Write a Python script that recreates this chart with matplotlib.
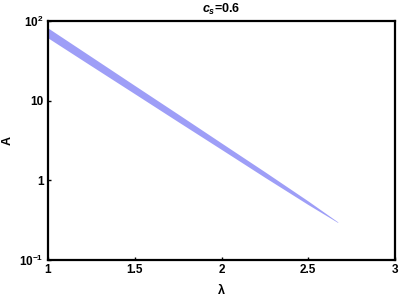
import matplotlib
matplotlib.use("Agg")
import matplotlib.pyplot as plt
from matplotlib.ticker import FixedLocator, FixedFormatter, NullLocator

plt.rcParams['font.family'] = ['Liberation Sans', 'DejaVu Sans']
plt.rcParams['font.weight'] = 'bold'
plt.rcParams['mathtext.fontset'] = 'custom'
plt.rcParams['mathtext.rm'] = 'Liberation Sans:bold'
plt.rcParams['mathtext.bf'] = 'Liberation Sans:bold'
plt.rcParams['mathtext.it'] = 'Liberation Sans:bold:italic'

# data
lam = [1.0, 1.25, 1.5, 1.75, 2.0, 2.25, 2.5, 2.67]
A_upper = [81.7, 35.6, 15.5, 6.77, 2.94, 1.28, 0.549, 0.301]
A_lower = [61.3, 27.3, 12.2, 5.44, 2.44, 1.09, 0.495, 0.296]

xticks = [1, 1.5, 2, 2.5, 3]
xticklabels = ["1", "1.5", "2", "2.5", "3"]
yticks = [0.1, 1, 10, 100]
yticklabels = [r"$10^{-1}$", "1", "10", r"$10^{2}$"]

fig = plt.figure(figsize=(3.99, 2.99), dpi=100)
ax = fig.add_axes([48/399, 1-260/299, (395-48)/399, (260-21)/299])
ax.fill_between(lam, A_lower, A_upper, color='#9e9ef7', linewidth=0)
ax.set_yscale('log')
ax.set_xlim(1, 3)
ax.set_ylim(0.1, 100)
ax.xaxis.set_major_locator(FixedLocator(xticks))
ax.xaxis.set_major_formatter(FixedFormatter(xticklabels))
ax.yaxis.set_major_locator(FixedLocator(yticks))
ax.yaxis.set_major_formatter(FixedFormatter(yticklabels))
ax.yaxis.set_minor_locator(NullLocator())
ax.xaxis.set_minor_locator(NullLocator())
ax.tick_params(direction='in', length=2.5, width=1, labelsize=8.5, pad=3)
for s in ax.spines.values():
    s.set_linewidth(1.6)
ax.set_xlabel("λ", fontsize=9, fontweight='bold', labelpad=6)
ax.set_ylabel("A", fontsize=9, fontweight='bold')
ax.yaxis.set_label_coords(-0.1, 0.5)
ax.set_title(r"$c_s$=0.6", fontsize=9, fontweight='bold', pad=6)
fig.savefig("out.png", dpi=100)
